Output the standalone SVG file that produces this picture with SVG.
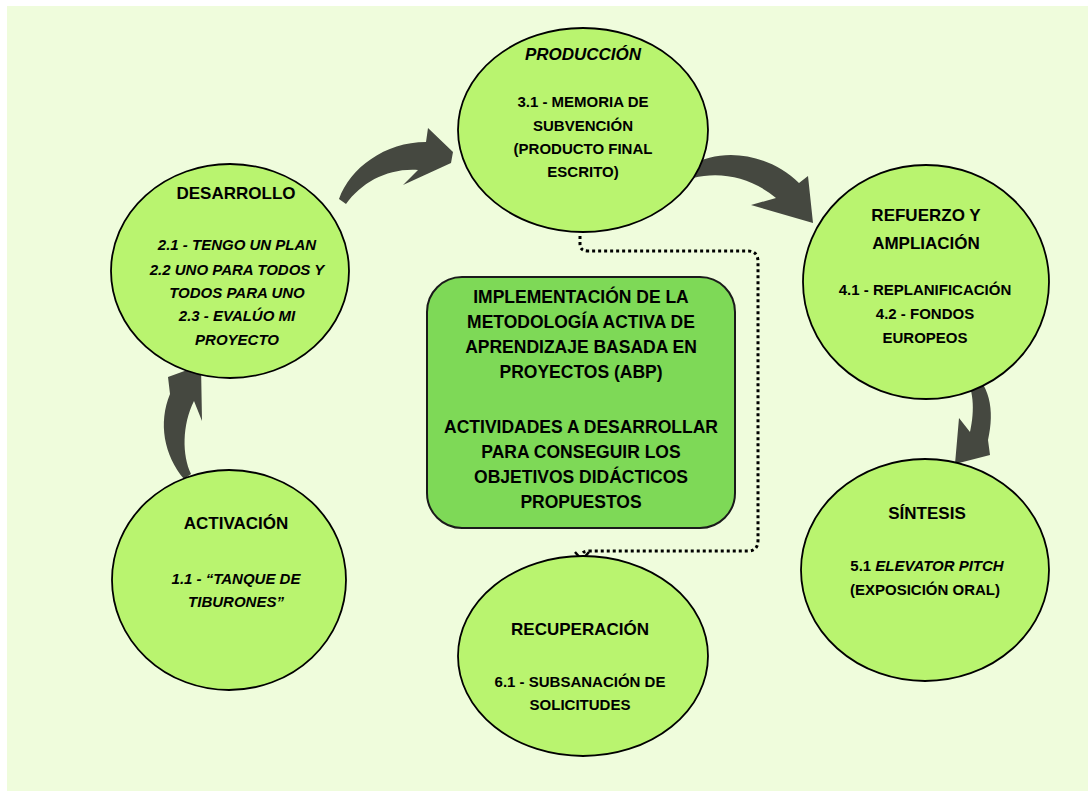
<svg xmlns="http://www.w3.org/2000/svg" width="1088" height="791" viewBox="0 0 1088 791">
<style>
.bg{fill:#effcdc}
.node{fill:#b9f46f;stroke:#000;stroke-width:1.8}
.box{fill:#7ed957;stroke:#1a1a1a;stroke-width:2}
.arr{fill:#454840}
text{font-family:"Liberation Sans",Arial,sans-serif;font-weight:bold;fill:#000;text-anchor:middle}
.t{font-size:17px}
.b{font-size:15px}
.c{font-size:17.5px}
.i{font-style:italic}
.dot{fill:none;stroke:#000;stroke-width:3;stroke-dasharray:3 3}
</style>
<rect x="0" y="0" width="1088" height="791" fill="#ffffff"/>
<rect class="bg" x="7" y="6" width="1081" height="785"/>

<g id="connectors">
  <path class="arr" d="M339,199 C350,168 385,142 426,142 L428,128 L453,152 L451,163 L403,185 L418,170 C388,168 362,182 346,204 Z"/>
  <path class="arr" d="M690,166 C722,146 770,154 799,183 L808,176 L813,223 L751,205 L776,198 C752,178 722,171 693,178 Z"/>
  <path class="arr" d="M967,367 C990,383 995,410 988,440 L990,455 L955,464 L959,418 L970,432 C975,410 974,388 963,372 Z"/>
  <path class="arr" d="M184,479 C164,455 158,423 170,394 L168,377 L201,365 L202,421 L194,401 C182,425 182,455 191,474 Z"/>
  <path class="dot" d="M580,236 L580,244 Q580,251 588,251 L748,251 Q758,251 758,262 L758,540 Q758,551 748,551 L590,551 Q582,551 582,555"/>
  <path d="M575,552 L582,560 L589,552" fill="none" stroke="#000" stroke-width="2.5"/>
</g>

<g id="produccion">
  <ellipse class="node" cx="583" cy="130" rx="125" ry="102"/>
  <text class="t i" x="583" y="60">PRODUCCIÓN</text>
  <text class="b" x="583" y="107">3.1 - MEMORIA DE</text>
  <text class="b" x="583" y="131">SUBVENCIÓN</text>
  <text class="b" x="583" y="154">(PRODUCTO FINAL</text>
  <text class="b" x="583" y="177">ESCRITO)</text>
</g>

<g id="desarrollo">
  <ellipse class="node" cx="230" cy="271" rx="119" ry="107"/>
  <text class="t" x="236" y="199">DESARROLLO</text>
  <text class="b i" x="237" y="250">2.1 - TENGO UN PLAN</text>
  <text class="b i" x="237" y="275">2.2 UNO PARA TODOS Y</text>
  <text class="b i" x="237" y="298">TODOS PARA UNO</text>
  <text class="b i" x="237" y="321">2.3 - EVALÚO MI</text>
  <text class="b i" x="237" y="345">PROYECTO</text>
</g>

<g id="refuerzo">
  <ellipse class="node" cx="926" cy="282" rx="123" ry="117"/>
  <text class="t" x="926" y="221">REFUERZO Y</text>
  <text class="t" x="926" y="249">AMPLIACIÓN</text>
  <text class="b" x="925" y="295">4.1 - REPLANIFICACIÓN</text>
  <text class="b" x="925" y="319">4.2 - FONDOS</text>
  <text class="b" x="925" y="343">EUROPEOS</text>
</g>

<g id="activacion">
  <ellipse class="node" cx="229" cy="580" rx="117" ry="110"/>
  <text class="t" x="236" y="529">ACTIVACIÓN</text>
  <text class="b i" x="236" y="584">1.1 - “TANQUE DE</text>
  <text class="b i" x="236" y="607">TIBURONES”</text>
</g>

<g id="sintesis">
  <ellipse class="node" cx="925" cy="570" rx="124" ry="111"/>
  <text class="t" x="927" y="519">SÍNTESIS</text>
  <text class="b" x="927" y="571">5.1 <tspan class="i">ELEVATOR PITCH</tspan></text>
  <text class="b" x="925" y="595">(EXPOSICIÓN ORAL)</text>
</g>

<g id="recuperacion">
  <ellipse class="node" cx="583" cy="656" rx="125" ry="100"/>
  <text class="t" x="580" y="635">RECUPERACIÓN</text>
  <text class="b" x="580" y="687">6.1 - SUBSANACIÓN DE</text>
  <text class="b" x="580" y="710">SOLICITUDES</text>
</g>

<g id="centro">
  <rect class="box" x="427" y="277" width="308" height="251" rx="35"/>
  <text class="c" x="581" y="303">IMPLEMENTACIÓN DE LA</text>
  <text class="c" x="581" y="328">METODOLOGÍA ACTIVA DE</text>
  <text class="c" x="581" y="353">APRENDIZAJE BASADA EN</text>
  <text class="c" x="581" y="378">PROYECTOS (ABP)</text>
  <text class="c" x="581" y="433">ACTIVIDADES A DESARROLLAR</text>
  <text class="c" x="581" y="458">PARA CONSEGUIR LOS</text>
  <text class="c" x="581" y="483">OBJETIVOS DIDÁCTICOS</text>
  <text class="c" x="581" y="508">PROPUESTOS</text>
</g>
</svg>
